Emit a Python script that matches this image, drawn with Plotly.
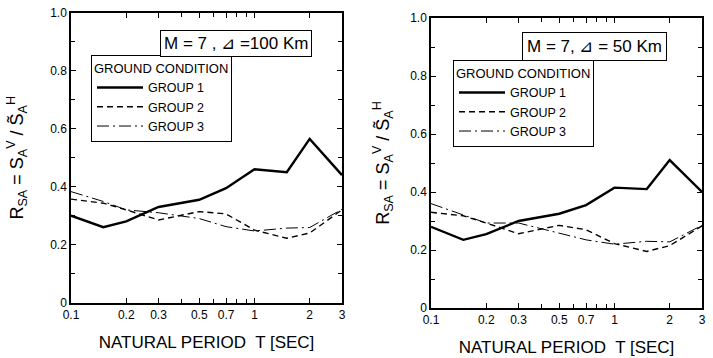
import plotly.graph_objects as go

periods = [0.1, 0.15, 0.2, 0.3, 0.5, 0.7, 1.0, 1.5, 2.0, 3.0]

# Left panel: M=7, Δ=100 km
left_g1 = [0.30, 0.26, 0.28, 0.33, 0.355, 0.395, 0.46, 0.45, 0.565, 0.44]
left_g2 = [0.357, 0.343, 0.32, 0.285, 0.314, 0.306, 0.25, 0.222, 0.24, 0.32]
left_g3 = [0.383, 0.349, 0.32, 0.31, 0.29, 0.262, 0.247, 0.257, 0.259, 0.322]

# Right panel: M=7, Δ=50 km
right_g1 = [0.28, 0.235, 0.255, 0.30, 0.325, 0.355, 0.415, 0.41, 0.51, 0.40]
right_g2 = [0.33, 0.318, 0.293, 0.256, 0.285, 0.27, 0.222, 0.195, 0.215, 0.283]
right_g3 = [0.36, 0.32, 0.293, 0.293, 0.258, 0.235, 0.22, 0.23, 0.228, 0.285]

group_names = ["GROUP 1", "GROUP 2", "GROUP 3"]
x_tickvals = [0.1, 0.2, 0.3, 0.5, 0.7, 1, 2, 3]
x_ticktext = ["0.1", "0.2", "0.3", "0.5", "0.7", "1", "2", "3"]
y_tickvals = [0, 0.2, 0.4, 0.6, 0.8, 1.0]
y_ticktext = ["0", "0.2", "0.4", "0.6", "0.8", "1.0"]
panel_titles = ["M = 7 , \u22bf =100 Km", "M = 7, \u22bf = 50 Km"]

FONT = "Liberation Sans, Arial, sans-serif"
styles = [dict(color="black", width=2.4, dash="solid"),
          dict(color="black", width=1.4, dash="6px,4px"),
          dict(color="black", width=1.0, dash="12px,4px,2px,4px")]

fig = go.Figure()
panels = [(left_g1, left_g2, left_g3), (right_g1, right_g2, right_g3)]
for p, series in enumerate(panels):
    xa = "x" if p == 0 else "x2"
    ya = "y" if p == 0 else "y2"
    lg = "legend" if p == 0 else "legend2"
    for name, vals, st in zip(group_names, series, styles):
        fig.add_trace(go.Scatter(x=periods, y=vals, mode="lines", name=name,
                                 line=st, xaxis=xa, yaxis=ya, legend=lg,
                                 showlegend=True))

W, H = 713, 358
def px(v): return v / W
def py(v): return 1 - v / H

axis_common = dict(showline=True, linecolor="black", linewidth=1.5, mirror="ticks",
                   ticks="inside", ticklen=5, tickcolor="black", showgrid=False,
                   zeroline=False, automargin=False,
                   tickfont=dict(family=FONT, size=12, color="black"))
ytitle = "R<sub>SA</sub> = S<sub>A</sub><sup>V</sup> / S\u0303<sub>A</sub><sup>H</sup>"
xtitle = "NATURAL PERIOD  T [SEC]"

legend_common = dict(xanchor="left", yanchor="top", bordercolor="black", borderwidth=1,
                     bgcolor="white", font=dict(size=12.5, family=FONT), itemwidth=46,
                     entrywidth=75, tracegroupgap=0)

fig.update_layout(
    width=W, height=H, margin=dict(l=0, r=0, t=0, b=0, autoexpand=False),
    paper_bgcolor="white", plot_bgcolor="white",
    font=dict(family=FONT, color="black"),
    xaxis=dict(type="log", range=[-1, 0.4771], domain=[px(71), px(342)],
               tickvals=x_tickvals, ticktext=x_ticktext, anchor="y",
               minor=dict(tickvals=[0.4, 0.6, 0.8, 0.9], ticks="inside", ticklen=4, tickcolor="black"),
               title=dict(text=xtitle, font=dict(size=17, family=FONT), standoff=15),
               **axis_common),
    yaxis=dict(range=[0, 1], domain=[py(302.5), py(13)], tickvals=y_tickvals,
               ticktext=y_ticktext, anchor="x",
               minor=dict(dtick=0.1, ticks="inside", ticklen=4, tickcolor="black"),
               title=dict(text=ytitle, font=dict(size=18, family=FONT), standoff=22),
               **axis_common),
    xaxis2=dict(type="log", range=[-1, 0.4771], domain=[px(431), px(702)],
                tickvals=x_tickvals, ticktext=x_ticktext, anchor="y2",
                minor=dict(tickvals=[0.4, 0.6, 0.8, 0.9], ticks="inside", ticklen=4, tickcolor="black"),
                title=dict(text=xtitle, font=dict(size=17, family=FONT), standoff=15),
                **axis_common),
    yaxis2=dict(range=[0, 1], domain=[py(308), py(18)], tickvals=y_tickvals,
                ticktext=y_ticktext, anchor="x2",
                minor=dict(dtick=0.1, ticks="inside", ticklen=4, tickcolor="black"),
                title=dict(text=ytitle, font=dict(size=18, family=FONT), standoff=16),
                **axis_common),
    legend=dict(x=px(91), y=py(55),
                title=dict(text="GROUND CONDITION", font=dict(size=13, family=FONT)),
                **legend_common),
    legend2=dict(x=px(453), y=py(60),
                 title=dict(text="GROUND CONDITION", font=dict(size=13, family=FONT)),
                 **legend_common),
)

fig.add_annotation(x=px(236), y=py(44), xref="paper", yref="paper", text=panel_titles[0],
                   xanchor="center", yanchor="middle",
                   showarrow=False, font=dict(size=17, family=FONT), bordercolor="black",
                   borderwidth=1, borderpad=3, bgcolor="white")
fig.add_annotation(x=px(594), y=py(46), xref="paper", yref="paper", text=panel_titles[1],
                   xanchor="center", yanchor="middle",
                   showarrow=False, font=dict(size=17, family=FONT), bordercolor="black",
                   borderwidth=1, borderpad=4, bgcolor="white")

fig.write_html("out.html", config={"displayModeBar": False},
               post_script="document.body.style.margin='0';")
